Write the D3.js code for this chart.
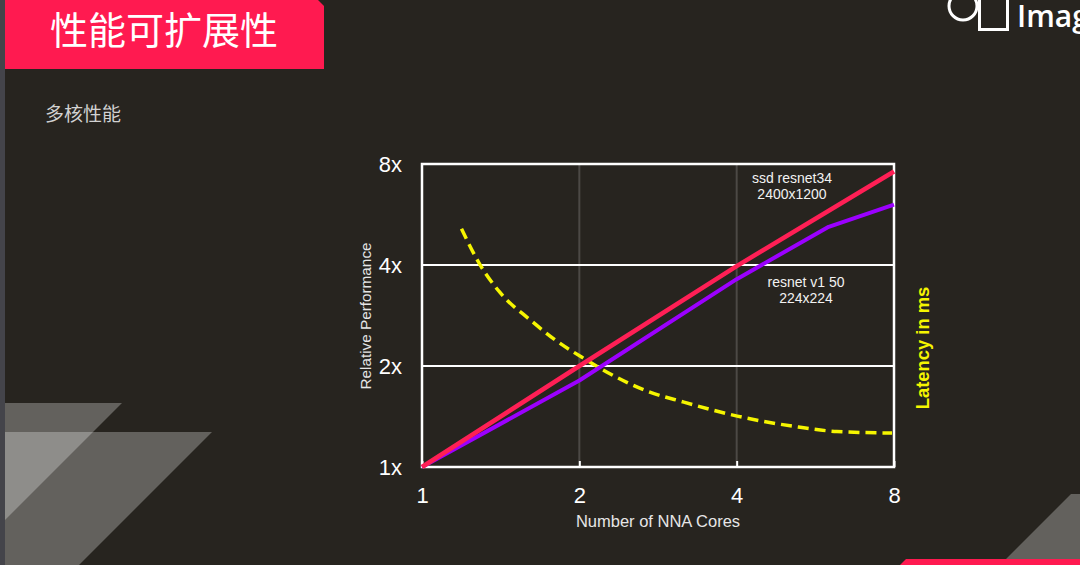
<!DOCTYPE html>
<html>
<head>
    <meta charset="UTF-8">
    <title>性能可扩展性</title>
    <script src="https://cdnjs.cloudflare.com/ajax/libs/d3/7.8.5/d3.min.js"></script>
    <style>
        html, body {
            margin: 0;
            padding: 0;
            background: #27241f;
            overflow: hidden;
        }
        .cjk {
            font-family: "Noto Sans CJK SC", "Noto Sans", sans-serif;
        }
        .latin {
            font-family: "Liberation Sans", Arial, sans-serif;
        }
        .axis path { display: none; }
        .axis text {
            fill: #ffffff;
            font-family: "Liberation Sans", Arial, sans-serif;
            font-size: 22px;
        }
        .note {
            fill: #f2f2f2;
            font-size: 14px;
            text-anchor: middle;
        }
    </style>
</head>
<body>
<div id="vis"></div>
<script>
    // x axis: number of NNA cores (log2)
    var coreTicks = [1, 2, 4, 8];
    var perfTicks = [1, 2, 4, 8];

    // ssd resnet34 2400x1200
    var ssdCores = [1, 2, 4, 8];
    var ssdPerf = [1, 2, 3.97, 7.6];

    // resnet v1 50 224x224
    var resnetCores = [1, 2, 4, 6, 8];
    var resnetPerf = [1, 1.81, 3.63, 5.2, 6.05];

    // latency (right axis, no tick labels shown)
    var latCores = [1.19, 1.29, 1.41, 1.62, 1.79, 2.05, 2.26, 2.68, 3.17, 4.01, 5.25, 6.22, 7.93];
    var latMs = [78.6, 66.9, 57.6, 48.2, 42.2, 35.6, 31.3, 25.2, 21.4, 16.8, 13.2, 11.7, 11.2];

    var width = 1080, height = 565;
    var plot = {left: 422, right: 894, top: 164, bottom: 467};

    var svg = d3.select("#vis").append("svg")
            .attr("width", width)
            .attr("height", height);

    svg.append("rect")
            .attr("width", width)
            .attr("height", height)
            .attr("fill", "#27241f");

    // slide decorations
    svg.append("rect")
            .attr("x", 0).attr("y", 0)
            .attr("width", 5).attr("height", height)
            .attr("fill", "#44444a");

    svg.append("path")
            .attr("d", "M5 0 L318 0 L324 6 L324 69 L5 69 Z")
            .attr("fill", "#ff1a50");

    svg.append("text")
            .attr("class", "cjk")
            .attr("x", 50).attr("y", 44)
            .attr("fill", "#ffffff")
            .style("font-size", "38px")
            .text("性能可扩展性");

    svg.append("text")
            .attr("class", "cjk")
            .attr("x", 45).attr("y", 121)
            .attr("fill", "#d2d2d2")
            .style("font-size", "19px")
            .text("多核性能");

    // logo
    svg.append("circle")
            .attr("cx", 963).attr("cy", 6).attr("r", 14)
            .attr("fill", "none")
            .attr("stroke", "#ffffff")
            .attr("stroke-width", 3);
    svg.append("rect")
            .attr("x", 979.5).attr("y", -5)
            .attr("width", 28).attr("height", 34.5)
            .attr("fill", "#27241f")
            .attr("stroke", "#ffffff")
            .attr("stroke-width", 3);
    svg.append("text")
            .attr("x", 1017).attr("y", 27)
            .attr("fill", "#ffffff")
            .style("font-family", "'Open Sans', sans-serif")
            .style("font-weight", 600)
            .style("font-size", "30px")
            .text("Imag");

    // translucent corner shapes
    var shapes = [
        "M5 403 L122 403 L5 520 Z",
        "M5 432 L212 432 L79 565 L5 565 Z",
        "M1071 494 L1080 494 L1080 565 L1000 565 Z"
    ];
    svg.selectAll(".corner")
            .data(shapes)
            .enter()
            .append("path")
            .attr("class", "corner")
            .attr("d", function(d) { return d; })
            .attr("fill", "#ffffff")
            .attr("fill-opacity", 0.28);

    svg.append("path")
            .attr("d", "M906 559 L1080 559 L1080 565 L900 565 Z")
            .attr("fill", "#ff1a50");

    // scales
    var x = d3.scaleLog().base(2).domain([1, 8]).range([plot.left, plot.right]);
    var y = d3.scaleLog().base(2).domain([1, 8]).range([plot.bottom, plot.top]);
    var yLat = d3.scaleLinear().domain([0, 100]).range([plot.bottom, plot.top]);

    // grid
    svg.selectAll(".vgrid")
            .data([2, 4])
            .enter()
            .append("line")
            .attr("class", "vgrid")
            .attr("x1", function(d) { return x(d); })
            .attr("x2", function(d) { return x(d); })
            .attr("y1", plot.top)
            .attr("y2", plot.bottom)
            .attr("stroke", "#4c4945")
            .attr("stroke-width", 2);

    svg.selectAll(".hgrid")
            .data([2, 4])
            .enter()
            .append("line")
            .attr("class", "hgrid")
            .attr("x1", plot.left)
            .attr("x2", plot.right)
            .attr("y1", function(d) { return y(d); })
            .attr("y2", function(d) { return y(d); })
            .attr("stroke", "#ffffff")
            .attr("stroke-width", 2);

    svg.append("rect")
            .attr("x", plot.left).attr("y", plot.top)
            .attr("width", plot.right - plot.left)
            .attr("height", plot.bottom - plot.top)
            .attr("fill", "none")
            .attr("stroke", "#ffffff")
            .attr("stroke-width", 2.5);

    // axes
    var xAxis = d3.axisBottom(x)
            .tickValues(coreTicks)
            .tickFormat(d3.format("d"))
            .tickSizeInner(-6)
            .tickSizeOuter(0)
            .tickPadding(20);

    var gx = svg.append("g")
            .attr("class", "axis")
            .attr("transform", "translate(0," + plot.bottom + ")")
            .call(xAxis);
    gx.selectAll(".tick line")
            .attr("stroke", "#ffffff")
            .attr("stroke-width", 2);
    gx.selectAll(".tick text").attr("y", 20);

    var yAxis = d3.axisLeft(y)
            .tickValues(perfTicks)
            .tickFormat(function(d) { return d + "x"; })
            .tickSize(0)
            .tickPadding(20);

    svg.append("g")
            .attr("class", "axis")
            .attr("transform", "translate(" + plot.left + ",0)")
            .call(yAxis);

    // axis titles
    svg.append("text")
            .attr("class", "latin")
            .attr("x", (plot.left + plot.right) / 2 + 0)
            .attr("y", 527)
            .attr("text-anchor", "middle")
            .attr("fill", "#e6e6e6")
            .style("font-size", "16.5px")
            .text("Number of NNA Cores");

    svg.append("text")
            .attr("class", "latin")
            .attr("transform", "translate(371,316) rotate(-90)")
            .attr("text-anchor", "middle")
            .attr("fill", "#e6e6e6")
            .style("font-size", "15.3px")
            .text("Relative Performance");

    svg.append("text")
            .attr("class", "latin")
            .attr("transform", "translate(929,348) rotate(-90)")
            .attr("text-anchor", "middle")
            .attr("fill", "#f5f500")
            .style("font-size", "18.4px")
            .style("font-weight", "bold")
            .text("Latency in ms");

    // series
    var perfLine = d3.line()
            .x(function(d) { return x(d[0]); })
            .y(function(d) { return y(d[1]); });

    var latLine = d3.line()
            .x(function(d) { return x(d[0]); })
            .y(function(d) { return yLat(d[1]); })
            .curve(d3.curveMonotoneX);

    svg.append("path")
            .datum(d3.zip(latCores, latMs))
            .attr("d", latLine)
            .attr("fill", "none")
            .attr("stroke", "#f5f500")
            .attr("stroke-width", 3.5)
            .attr("stroke-dasharray", "11,6");

    svg.append("path")
            .datum(d3.zip(resnetCores, resnetPerf))
            .attr("d", perfLine)
            .attr("fill", "none")
            .attr("stroke", "#9b00ff")
            .attr("stroke-width", 4)
            .attr("stroke-linejoin", "round");

    svg.append("path")
            .datum(d3.zip(ssdCores, ssdPerf))
            .attr("d", perfLine)
            .attr("fill", "none")
            .attr("stroke", "#ff1f55")
            .attr("stroke-width", 4.5)
            .attr("stroke-linejoin", "round");

    // notes
    var notes = [
        {lines: ["ssd resnet34", "2400x1200"], x: 792, y: 183},
        {lines: ["resnet v1 50", "224x224"], x: 806, y: 287}
    ];
    notes.forEach(function(n) {
        n.lines.forEach(function(t, i) {
            svg.append("text")
                    .attr("class", "note latin")
                    .attr("x", n.x)
                    .attr("y", n.y + i * 16)
                    .text(t);
        });
    });
</script>
</body>
</html>
